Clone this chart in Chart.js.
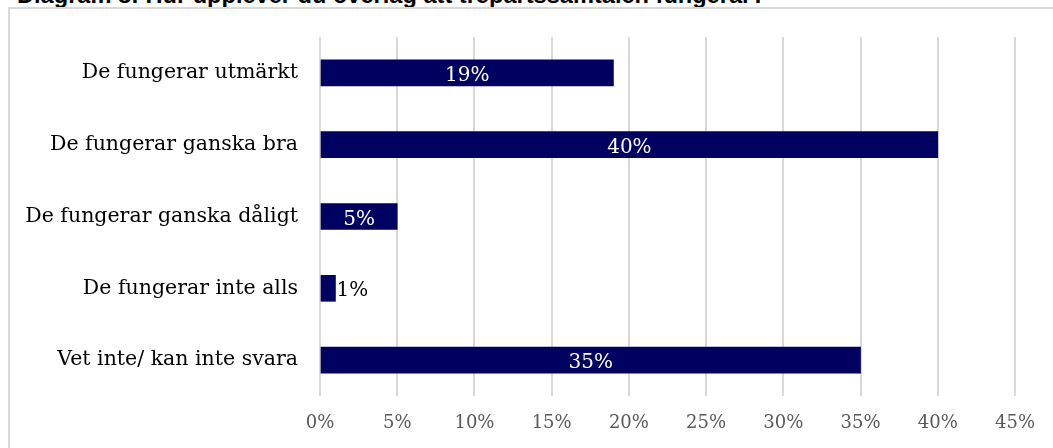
<!DOCTYPE html>
<html>
<head>
<meta charset="utf-8">
<script src="https://cdn.jsdelivr.net/npm/chart.js@4/dist/chart.umd.min.js"></script>
<style>
  body { margin: 0; background: #fff; overflow: hidden; }
  #wrap { position: relative; width: 1053px; height: 448px; overflow: hidden; }
  #title {
    position: absolute; left: 17px; top: -17px; margin: 0;
    font: bold 23.6px "Liberation Sans", Arial, sans-serif; line-height: 24px;
    color: #000; white-space: nowrap;
  }
  #frame {
    position: absolute; left: 8px; top: 7px; width: 1100px; height: 500px;
    border: 2px solid #d9d9d9; box-sizing: border-box;
  }
  #myChart { position: absolute; left: 0; top: 0; }
</style>
</head>
<body>
<div id="wrap">
  <h1 id="title">Diagram 8: Hur upplever du överlag att trepartssamtalen fungerar?</h1>
  <div id="frame"></div>
  <canvas id="myChart" width="1053" height="448"></canvas>
</div>
<script>
/*
* Data
*/

var categories = [
  "De fungerar utmärkt",
  "De fungerar ganska bra",
  "De fungerar ganska dåligt",
  "De fungerar inte alls",
  "Vet inte/ kan inte svara"
];
var shares = [19, 40, 5, 1, 35];
var tickValues = [0, 5, 10, 15, 20, 25, 30, 35, 40, 45];

var serif = '"DejaVu Serif", "Liberation Serif", serif';

/*
* Value labels: white inside the bar, black after the bar when it is too short
*/

var valueLabels = {
  id: 'valueLabels',
  afterDatasetsDraw: function(chart) {
    var ctx = chart.ctx;
    var meta = chart.getDatasetMeta(0);
    ctx.save();
    ctx.font = '20px ' + serif;
    ctx.textBaseline = 'middle';
    meta.data.forEach(function(bar, i) {
      var text = shares[i] + '%';
      var w = ctx.measureText(text).width;
      var len = bar.x - bar.base;
      if (len > w + 4) {
        ctx.fillStyle = '#ffffff';
        ctx.textAlign = 'center';
        ctx.fillText(text, (bar.x + bar.base) / 2, bar.y + 3);
      } else {
        ctx.fillStyle = '#000000';
        ctx.textAlign = 'left';
        ctx.fillText(text, bar.x + 1, bar.y + 2);
      }
    });
    ctx.restore();
  }
};

/*
* Chart
*/

var ctx = document.getElementById('myChart').getContext('2d');
var chart = new Chart(ctx, {
  type: 'bar',
  data: {
    labels: categories,
    datasets: [{
      data: shares,
      backgroundColor: '#000060',
      barThickness: 26
    }]
  },
  plugins: [valueLabels],
  options: {
    indexAxis: 'y',
    responsive: false,
    animation: false,
    layout: { padding: { left: 0, right: 38, top: 37, bottom: 0 } },
    plugins: {
      legend: { display: false },
      tooltip: { enabled: false }
    },
    scales: {
      x: {
        min: 0,
        max: 45,
        afterBuildTicks: function(scale) {
          scale.ticks = tickValues.map(function(v) { return { value: v }; });
        },
        afterFit: function(scale) { scale.height = 52; },
        grid: { color: '#d9d9d9', lineWidth: 2, drawTicks: false },
        border: { display: false },
        ticks: {
          padding: 17,
          color: '#595959',
          font: { family: serif, size: 18 },
          callback: function(v) { return v + '%'; }
        }
      },
      y: {
        afterFit: function(scale) { scale.width = 320; },
        grid: { display: false, drawTicks: false },
        border: { display: false },
        ticks: {
          padding: 22,
          color: '#000000',
          font: { family: serif, size: 20.5 }
        }
      }
    }
  }
});
</script>
</body>
</html>
